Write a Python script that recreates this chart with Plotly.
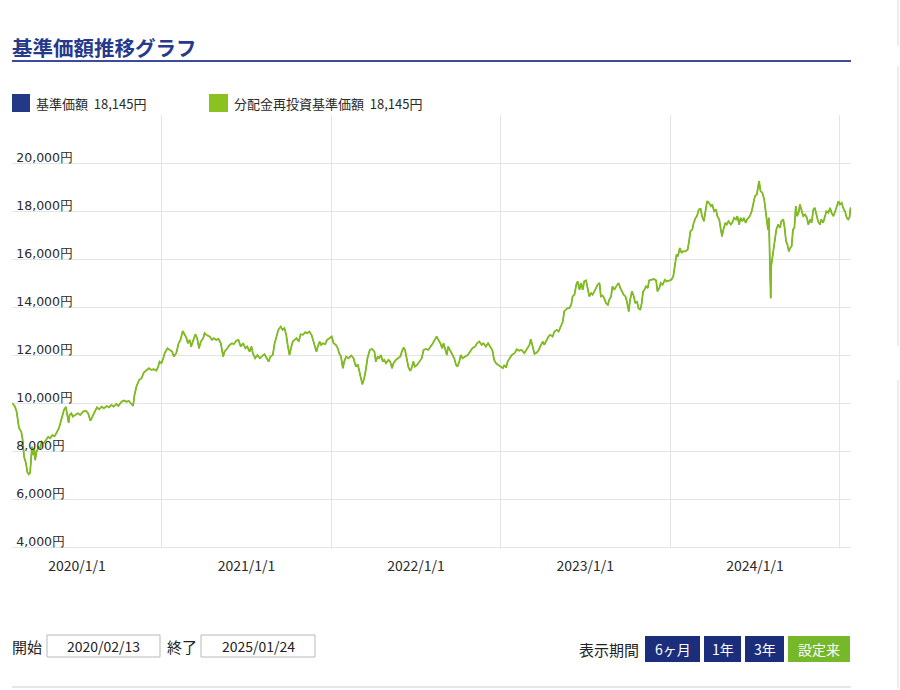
import plotly.graph_objects as go

# ---------------- data ----------------
dates = [
    "2020-02-13", "2020-02-19", "2020-02-23", "2020-02-28", "2020-03-04", "2020-03-07", "2020-03-10",
    "2020-03-14", "2020-03-17", "2020-03-20", "2020-03-23", "2020-03-25", "2020-03-27", "2020-03-30",
    "2020-04-01", "2020-04-03", "2020-04-06", "2020-04-10", "2020-04-14", "2020-04-17", "2020-04-21",
    "2020-04-26", "2020-05-01", "2020-05-05", "2020-05-10", "2020-05-15", "2020-05-20", "2020-05-24",
    "2020-05-28", "2020-06-01", "2020-06-04", "2020-06-08", "2020-06-11", "2020-06-14", "2020-06-16",
    "2020-06-20", "2020-06-23", "2020-06-29", "2020-07-04", "2020-07-09", "2020-07-15", "2020-07-21",
    "2020-07-26", "2020-07-31", "2020-08-04", "2020-08-09", "2020-08-14", "2020-08-19", "2020-08-24",
    "2020-08-29", "2020-09-04", "2020-09-09", "2020-09-14", "2020-09-19", "2020-09-25", "2020-09-29",
    "2020-10-06", "2020-10-11", "2020-10-17", "2020-10-22", "2020-10-27", "2020-10-31", "2020-11-03",
    "2020-11-07", "2020-11-13", "2020-11-18", "2020-11-23", "2020-11-29", "2020-12-04", "2020-12-09",
    "2020-12-14", "2020-12-20", "2020-12-24", "2020-12-27", "2020-12-31",
    "2021-01-04", "2021-01-07", "2021-01-13", "2021-01-18", "2021-01-23", "2021-01-27", "2021-02-01",
    "2021-02-06", "2021-02-10", "2021-02-15", "2021-02-19", "2021-02-23", "2021-02-26", "2021-03-02",
    "2021-03-05", "2021-03-09", "2021-03-14", "2021-03-18", "2021-03-22", "2021-03-26", "2021-03-31",
    "2021-04-03", "2021-04-09", "2021-04-14", "2021-04-19", "2021-04-23", "2021-04-28", "2021-05-03",
    "2021-05-08", "2021-05-13", "2021-05-16", "2021-05-22", "2021-05-27", "2021-06-01", "2021-06-05",
    "2021-06-10", "2021-06-15", "2021-06-20", "2021-06-25", "2021-06-30", "2021-07-04", "2021-07-09",
    "2021-07-13", "2021-07-16", "2021-07-21", "2021-07-26", "2021-07-31", "2021-08-04", "2021-08-10",
    "2021-08-15", "2021-08-19", "2021-08-23", "2021-08-28", "2021-09-01", "2021-09-05", "2021-09-09",
    "2021-09-14", "2021-09-18", "2021-09-22", "2021-09-26", "2021-09-29", "2021-10-03", "2021-10-07",
    "2021-10-10", "2021-10-14", "2021-10-18", "2021-10-23", "2021-10-27", "2021-11-01", "2021-11-06",
    "2021-11-10", "2021-11-15", "2021-11-20", "2021-11-25", "2021-11-30", "2021-12-03", "2021-12-07",
    "2021-12-10", "2021-12-14", "2021-12-19", "2021-12-23", "2021-12-28",
    "2022-01-02", "2022-01-06", "2022-01-11", "2022-01-15", "2022-01-18", "2022-01-22", "2022-01-26",
    "2022-01-29", "2022-02-02", "2022-02-07", "2022-02-13", "2022-02-18", "2022-02-23", "2022-02-27",
    "2022-03-02", "2022-03-06", "2022-03-09", "2022-03-13", "2022-03-17", "2022-03-20", "2022-03-25",
    "2022-03-30", "2022-04-04", "2022-04-07", "2022-04-11", "2022-04-14", "2022-04-18", "2022-04-22",
    "2022-04-25", "2022-04-29", "2022-05-04", "2022-05-08", "2022-05-12", "2022-05-15", "2022-05-20",
    "2022-05-25", "2022-05-30", "2022-06-02", "2022-06-06", "2022-06-09", "2022-06-13", "2022-06-16",
    "2022-06-20", "2022-06-23", "2022-06-27", "2022-06-30", "2022-07-05", "2022-07-10", "2022-07-15",
    "2022-07-19", "2022-07-24", "2022-07-29", "2022-08-04", "2022-08-08", "2022-08-12", "2022-08-16",
    "2022-08-20", "2022-08-24", "2022-08-28", "2022-08-31", "2022-09-04", "2022-09-07", "2022-09-10",
    "2022-09-14", "2022-09-19", "2022-09-23", "2022-09-27", "2022-09-30", "2022-10-04", "2022-10-07",
    "2022-10-11", "2022-10-16", "2022-10-22", "2022-10-27", "2022-11-01", "2022-11-07", "2022-11-11",
    "2022-11-16", "2022-11-21", "2022-11-25", "2022-11-30", "2022-12-05", "2022-12-09", "2022-12-14",
    "2022-12-18", "2022-12-22", "2022-12-27",
    "2023-01-01", "2023-01-06", "2023-01-09", "2023-01-13", "2023-01-16", "2023-01-20", "2023-01-25",
    "2023-01-31", "2023-02-05", "2023-02-10", "2023-02-15", "2023-02-21", "2023-02-27", "2023-03-04",
    "2023-03-07", "2023-03-11", "2023-03-15", "2023-03-20", "2023-03-24", "2023-03-29", "2023-04-02",
    "2023-04-05", "2023-04-09", "2023-04-14", "2023-04-18", "2023-04-23", "2023-04-27", "2023-05-02",
    "2023-05-06", "2023-05-11", "2023-05-15", "2023-05-18", "2023-05-22", "2023-05-25", "2023-05-29",
    "2023-06-02", "2023-06-05", "2023-06-09", "2023-06-13", "2023-06-16", "2023-06-20", "2023-06-23",
    "2023-06-27", "2023-06-30", "2023-07-04", "2023-07-08", "2023-07-11", "2023-07-15", "2023-07-18",
    "2023-07-22", "2023-07-26", "2023-07-29", "2023-08-02", "2023-08-05", "2023-08-09", "2023-08-12",
    "2023-08-16", "2023-08-20", "2023-08-23", "2023-08-27", "2023-08-30", "2023-09-03", "2023-09-07",
    "2023-09-12", "2023-09-16", "2023-09-20", "2023-09-23", "2023-09-27", "2023-09-30", "2023-10-04",
    "2023-10-07", "2023-10-11", "2023-10-15", "2023-10-18", "2023-10-22", "2023-10-25", "2023-10-29",
    "2023-11-01", "2023-11-04", "2023-11-07", "2023-11-10", "2023-11-14", "2023-11-17", "2023-11-21",
    "2023-11-27", "2023-12-02", "2023-12-05", "2023-12-09", "2023-12-12", "2023-12-16", "2023-12-21",
    "2023-12-25",
    "2024-01-01", "2024-01-04", "2024-01-08", "2024-01-11", "2024-01-15", "2024-01-18", "2024-01-22",
    "2024-01-26", "2024-01-29", "2024-02-03", "2024-02-08", "2024-02-11", "2024-02-14", "2024-02-18",
    "2024-02-21", "2024-02-25", "2024-02-28", "2024-03-03", "2024-03-07", "2024-03-10", "2024-03-14",
    "2024-03-18", "2024-03-21", "2024-03-25", "2024-03-29", "2024-04-01", "2024-04-05", "2024-04-09",
    "2024-04-12", "2024-04-16", "2024-04-19", "2024-04-22", "2024-04-25", "2024-04-29", "2024-05-02",
    "2024-05-06", "2024-05-11", "2024-05-14", "2024-05-18", "2024-05-22", "2024-05-25", "2024-05-29",
    "2024-06-01", "2024-06-05", "2024-06-08", "2024-06-12", "2024-06-15", "2024-06-21", "2024-06-25",
    "2024-06-28", "2024-07-02", "2024-07-06", "2024-07-09", "2024-07-11", "2024-07-14", "2024-07-18",
    "2024-07-22", "2024-07-25", "2024-07-27", "2024-07-30", "2024-08-01", "2024-08-02", "2024-08-05",
    "2024-08-06", "2024-08-08", "2024-08-14", "2024-08-17", "2024-08-21", "2024-08-25", "2024-08-28",
    "2024-09-01", "2024-09-04", "2024-09-07", "2024-09-10", "2024-09-13", "2024-09-16", "2024-09-19",
    "2024-09-22", "2024-09-25", "2024-09-28", "2024-10-01", "2024-10-04", "2024-10-07", "2024-10-11",
    "2024-10-14", "2024-10-18", "2024-10-22", "2024-10-25", "2024-10-29", "2024-11-01", "2024-11-05",
    "2024-11-08", "2024-11-12", "2024-11-15", "2024-11-19", "2024-11-22", "2024-11-26", "2024-11-30",
    "2024-12-03", "2024-12-07", "2024-12-11", "2024-12-14", "2024-12-18", "2024-12-22", "2024-12-25",
    "2024-12-29",
    "2025-01-01", "2025-01-05", "2025-01-08", "2025-01-12", "2025-01-16", "2025-01-19", "2025-01-22",
    "2025-01-24",
]

nav_values = [
    10000, 9870, 9640, 8960, 8800, 8460, 7760,
    7500, 7130, 7030, 7090, 7760, 8175, 7830,
    8120, 7620, 7970, 8175, 8120, 8385, 8320,
    8450, 8590, 8530, 8660, 8620, 8800, 8940,
    9215, 9500, 9710, 9840, 9565, 9170, 9500,
    9570, 9430, 9500, 9570, 9500, 9640, 9680,
    9570, 9260, 9430, 9640, 9820, 9740, 9850,
    9780, 9875, 9820, 9920, 9850, 9960, 9875,
    10055, 10100, 10055, 10085, 9960, 9875, 10335,
    10680, 10960, 11030, 11265, 11380, 11450, 11380,
    11405, 11350, 11515, 11725, 11655,
    11865, 12075, 12280, 12210, 12140, 11935, 12075,
    12490, 12630, 13000, 12865, 12700, 12490, 12630,
    12350, 12560, 12865, 12700, 12280, 12560, 12700,
    12910, 12810, 12770, 12630, 12700, 12630, 12670,
    12490, 11935, 12140, 12280, 12420, 12490, 12450,
    12590, 12630, 12350, 12490, 12280, 12350, 12140,
    12350, 12075, 11865, 12000, 11865, 11935, 12035,
    11865, 11725, 11935, 12000, 12490, 12840, 13050,
    13185, 13050, 13120, 12840, 12420, 12000, 12350,
    12560, 12630, 12700, 12560, 12865, 12840, 12950,
    12910, 12980, 12810, 12420, 12140, 12350, 12560,
    12420, 12490, 12450, 12630, 12700,
    12770, 12490, 12420, 12280, 12075, 11935, 11450,
    11725, 11935, 11865, 11975, 11865, 11515, 11615,
    11310, 11030, 10780, 11030, 11450, 11865, 12210,
    12250, 12140, 11725, 11935, 11865, 12000, 11725,
    11795, 11655, 11795, 11725, 11450, 11655, 11795,
    11865, 11935, 12140, 12310, 12210, 11865, 11515,
    11335, 11450, 11725, 11515, 11585, 11725, 11865,
    12210, 12250, 12210, 12350, 12490, 12630, 12770,
    12630, 12490, 12280, 12490, 12210, 12000, 12350,
    12210, 12000, 11865, 11585, 11515, 11725, 12000,
    11865, 11935, 12000, 12140, 12280, 12350, 12490,
    12560, 12420, 12490, 12350, 12490, 12350, 12210,
    11795, 11655, 11585,
    11515, 11450, 11585, 11475, 11725, 11865, 12000,
    12075, 12240, 12180, 12210, 12075, 12240, 12420,
    12660, 12350, 12045, 12100, 12210, 12420, 12560,
    12420, 12560, 12770, 12840, 12770, 12980, 13050,
    12980, 13185, 13395, 13815, 13880, 13950, 13950,
    14090, 14440, 14510, 14930, 15065, 14720, 15000,
    14720, 15065, 15110, 14720, 14440, 14580, 14510,
    14650, 14790, 14930, 15000, 14440, 14470, 14370,
    14160, 14090, 14300, 14440, 14860, 14720, 14860,
    15000, 14790, 14580, 14510, 14440, 14230, 13815,
    14300, 14650, 14440, 14160, 14230, 13950, 13880,
    14160, 14650, 14720, 14860, 14790, 15110, 15135,
    15165, 15110, 14650, 14790, 15000, 14930, 15135,
    15065,
    15135, 15135, 15275, 15690, 16180, 16110, 16460,
    16250, 16320, 16320, 16390, 16740, 17155, 17225,
    17505, 17715, 17785, 18065, 18090, 17785, 17575,
    18065, 18410, 18340, 18200, 18270, 17990, 18065,
    17785, 17645, 17295, 16945, 17225, 17505, 17435,
    17575, 17435, 17505, 17715, 17645, 17785, 17435,
    17715, 17575, 17715, 17505, 17645, 17785, 17990,
    18340, 18620, 18690, 18970, 19250, 18830, 18760,
    18480, 17925, 17785, 17225, 17715, 16530, 14370,
    15690, 15970, 16670, 17225, 17435, 17295, 17575,
    17645, 17295, 16740, 16600, 16320, 16460, 16530,
    17225, 17295, 18200, 17785, 17925, 18270, 17990,
    17785, 17855, 17715, 17435, 17645, 17505, 18065,
    18130, 17855, 17575, 17435, 17645, 17505, 17785,
    17990, 17925, 18130, 17925, 17785, 17990, 18200,
    18410,
    18270, 18340, 18130, 17990, 17715, 17645, 17750,
    18145,
]

# no distributions were paid, so the reinvested series equals the base price
reinvested_values = list(nav_values)

y_tick_values = [4000, 6000, 8000, 10000, 12000, 14000, 16000, 18000, 20000]
# a trailing figure space keeps the 4-digit labels left-aligned with the 5-digit ones
y_tick_labels = ["4,000円\u2007", "6,000円\u2007", "8,000円\u2007", "10,000円", "12,000円",
                 "14,000円", "16,000円", "18,000円", "20,000円"]

chart_title = "基準価額推移グラフ"
series_names = ["基準価額", "分配金再投資基準価額"]
latest_text = "18,145円"
start_caption, start_date_text = "開始", "2020/02/13"
end_caption, end_date_text = "終了", "2025/01/24"
period_caption = "表示期間"
period_buttons = ["6ヶ月", "1年", "3年", "設定来"]

# ---------------- styling ----------------
NAVY = "#233887"
NAVY_BTN = "#1b2e7b"
GREEN = "#80bb1f"
GREEN_SQ = "#8cc21f"
GREEN_BTN = "#76b82a"
GRID = "#e4e4e4"
TEXT = "#2a2a2a"
JP = "Noto Sans CJK JP"

W, H = 900, 690
L, R, T, B = 12, 49, 115, 143


def px(x):
    return (x - L) / (W - L - R)


def py(y):
    return (H - B - y) / (H - T - B)


fig = go.Figure()
fig.add_trace(go.Scatter(x=dates, y=nav_values, mode="lines", name=series_names[0],
                         line=dict(color=NAVY, width=0.8), showlegend=False))
fig.add_trace(go.Scatter(x=dates, y=reinvested_values, mode="lines", name=series_names[1],
                         line=dict(color=GREEN, width=1.8), showlegend=False))

shapes = []
annotations = []


def rect(x0, y0, x1, y1, fill, line_color=None, lw=0, layer="above"):
    shapes.append(dict(type="rect", xref="paper", yref="paper",
                       x0=px(x0), x1=px(x1), y0=py(y1), y1=py(y0),
                       fillcolor=fill, line=dict(color=line_color or fill, width=lw), layer=layer))


def hline(x0, x1, y, color, width):
    shapes.append(dict(type="line", xref="paper", yref="paper",
                       x0=px(x0), x1=px(x1), y0=py(y), y1=py(y),
                       line=dict(color=color, width=width)))


def vline(x, y0, y1, color, width):
    shapes.append(dict(type="line", xref="paper", yref="paper",
                       x0=px(x), x1=px(x), y0=py(y0), y1=py(y1),
                       line=dict(color=color, width=width)))


def text(x, y, s, size, color=TEXT, anchor="left", family=JP):
    annotations.append(dict(xref="paper", yref="paper", x=px(x), y=py(y), text=s,
                            showarrow=False, xanchor=anchor, yanchor="middle",
                            font=dict(family=family, size=size, color=color)))


# title + underline
text(10, 47, "<b>" + chart_title + "</b>", 20.5, color="#26398a")
hline(12, 851, 61, "#3b4c9c", 2)

# legend
rect(12, 94, 30, 112, NAVY)
text(34, 103, series_names[0] + "  " + latest_text, 13)
rect(209, 94, 228, 112, GREEN_SQ)
text(232, 103, series_names[1] + "  " + latest_text, 13)

# bottom controls
text(10, 646, start_caption, 15, color="#222222")
rect(47, 635, 160, 657, "white", "#b8b8b8", 1)
text(103.5, 646, start_date_text, 14, color="#222222", anchor="center")
text(165, 646, end_caption, 15, color="#222222")
rect(201, 635, 315, 657, "white", "#b8b8b8", 1)
text(258, 646, end_date_text, 14, color="#222222", anchor="center")
text(641, 649, period_caption, 15, color="#222222", anchor="right")

button_boxes = [(645, 700), (704, 741), (745, 784), (788, 850)]
for label, (bx0, bx1) in zip(period_buttons, button_boxes):
    fill = GREEN_BTN if label == "設定来" else NAVY_BTN
    rect(bx0, 636, bx1, 662, fill)
    text((bx0 + bx1) / 2, 649, label, 14, color="white", anchor="center")

hline(12, 851, 687, "#e6e6e6", 2)

# faint neighbouring panel edges on the right
vline(898, 0, 46, "#ececec", 2)
vline(898, 66, 346, "#ececec", 2)
vline(898, 380, 688, "#ececec", 2)

fig.update_layout(
    width=W, height=H,
    margin=dict(l=L, r=R, t=T, b=B, pad=0),
    paper_bgcolor="white", plot_bgcolor="white",
    shapes=shapes, annotations=annotations,
    showlegend=False,
    xaxis=dict(
        type="date",
        range=["2020-02-13", "2025-01-25"],
        tick0="2020-01-01", dtick="M12",
        ticklabelmode="period",
        tickformat="%Y/%-m/%-d",
        ticklabelstandoff=6,
        showgrid=True, gridcolor=GRID, gridwidth=1,
        showline=True, linecolor=GRID, linewidth=1,
        zeroline=False, ticks="",
        tickfont=dict(family=JP, size=14, color=TEXT),
    ),
    yaxis=dict(
        range=[4000, 22000],
        tickmode="array", tickvals=y_tick_values, ticktext=y_tick_labels,
        anchor="free", position=px(73), side="left",
        ticklabelposition="outside",
        ticklabelshift=-5,
        showgrid=True, gridcolor=GRID, gridwidth=1,
        zeroline=False, showline=False, ticks="",
        tickfont=dict(family="DejaVu Sans", size=12.5, color=TEXT),
    ),
)

fig.write_html(
    "out.html",
    config={"displayModeBar": False},
    post_script="document.body.style.margin='0';document.body.style.overflow='hidden';",
)
